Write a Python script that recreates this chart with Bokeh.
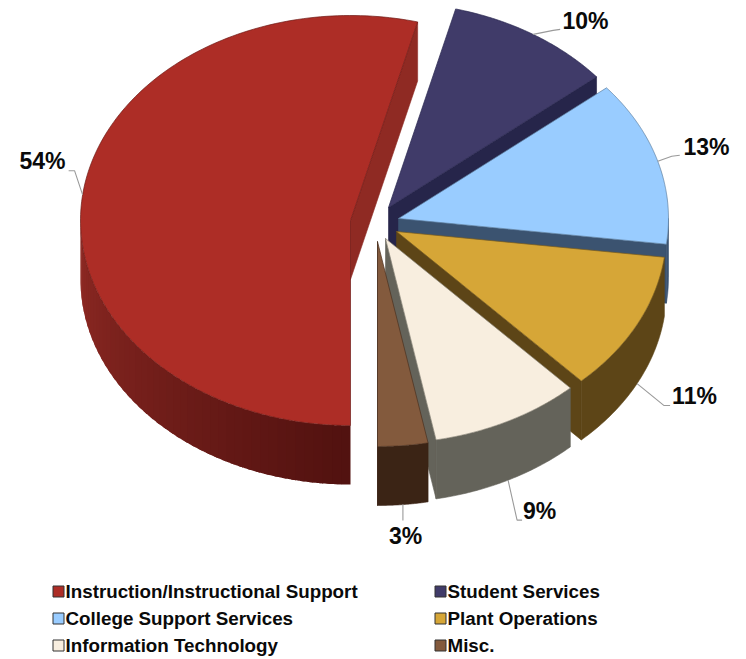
import numpy as np
from bokeh.core.properties import value
from bokeh.embed import file_html
from bokeh.models import Range1d
from bokeh.plotting import figure
from bokeh.resources import INLINE

# Budget shares, in drawing order clockwise from the bottom of the pie
categories = ["Instruction/Instructional Support", "Student Services",
              "College Support  Services", "Plant Operations",
              "Information Technology", "Misc."]
shares = [54, 10, 13, 11, 9, 3]

top_colors = ["#AD2D26", "#403B69", "#99CCFF", "#D6A637", "#F8EEDF", "#835A3D"]
wall_colors = ["#8F2A23", "#26254A", "#3B5370", "#5D4517", "#64635A", "#3B2415"]
edge_colors = ["#6E1A16", "#2A2850", "#5F7F9F", "#7A5C1C", "#8A8578", "#4A3020"]

# Exploded pie geometry: screen centre of each wedge, ellipse radii, extrusion
centers = [(350, 220), (388, 207), (398, 218), (396, 231), (385, 238), (377, 241)]
RX, RY, DEPTH = 270, 205, 59

# Leader elbows and label anchors, relative to each wedge's rim midpoint
leaders = [[(-8, -24), (-14, -24)], [(20, -4), (27, -5)], [(14, -5), (22, -6)],
           [(27, 22), (33, 22)], [(9, 40), (14, 40)], [(0, 16)]]
label_xy = [(42, 160), (585, 20), (706, 146), (694, 395), (539, 510), (405, 535)]

FONT = value("Liberation Sans")


def rim(center, deg, drop=0.0):
    a = np.radians(deg)
    return center[0] + RX * np.sin(a), center[1] - RY * np.cos(a) + drop


p = figure(width=746, height=659, output_backend="svg", toolbar_location=None,
           x_range=Range1d(0, 746), y_range=Range1d(659, 0),
           min_border=0, outline_line_color=None, background_fill_color="white")
p.axis.visible = False
p.grid.visible = False

# Wedge spans in degrees clockwise from the top; the first wedge wraps past 360
spans = []
start = 180.0
for share in shares:
    spans.append((start, start + share * 3.6))
    start = (start + share * 3.6) % 360.0

for share, (start, end), c, top, wall, edge in zip(shares, spans, centers, top_colors,
                                                   wall_colors, edge_colors):
    arc = np.linspace(start, end, 160)
    ax, ay = rim(c, arc)

    # straight wall along the trailing edge of the wedge
    ex, ey = rim(c, end)
    p.patch([c[0], ex, ex, c[0]], [c[1], ey, ey + DEPTH, c[1] + DEPTH],
            fill_color=wall, line_color=wall, line_width=0.6)

    # outer wall, only on the front half of the ellipse
    lo = max(start, 90.0)
    hi = min(end, 270.0)
    if hi > lo:
        if share == max(shares):
            # largest wedge: shaded in overlapping strips, dark at the bottom
            steps = 46
            edges = np.linspace(lo, hi, steps + 1)
            for i in range(steps):
                seg = np.linspace(edges[i], min(edges[i + 1] + 1.0, hi), 30)
                sx, sy = rim(c, seg)
                t = i / (steps - 1)
                rgb = (1 - t) * np.array([0x52, 0x12, 0x10]) + t * np.array([0x90, 0x2A, 0x24])
                col = "#%02X%02X%02X" % tuple(int(v) for v in rgb)
                p.patch(np.r_[sx, sx[::-1]], np.r_[sy, sy[::-1] + DEPTH],
                        fill_color=col, line_color=None)
        else:
            seg = np.linspace(lo, hi, 60)
            sx, sy = rim(c, seg)
            p.patch(np.r_[sx, sx[::-1]], np.r_[sy, sy[::-1] + DEPTH],
                    fill_color=wall, line_color=wall, line_width=0.6)

    # wedge top
    p.patch(np.r_[c[0], ax], np.r_[c[1], ay],
            fill_color=top, line_color=edge, line_width=0.7)

# Leader lines and percentage labels
for share, (start, end), c, elbow, (lx, ly) in zip(shares, spans, centers, leaders, label_xy):
    mid = ((start + end) / 2.0) % 360.0
    drop = DEPTH if 90 < mid < 270 else 0
    mx, my = rim(c, mid, drop)
    xs = [mx] + [mx + dx for dx, _ in elbow]
    ys = [my] + [my + dy for _, dy in elbow]
    p.line(xs, ys, line_color="#9A9A9A", line_width=1.1)
    p.text([lx], [ly], text=[f"{share}%"], text_font=FONT, text_font_style="bold",
           text_font_size="23px", text_color="#0A0A0A",
           text_align="center", text_baseline="middle")

# Legend, three rows in two columns
swatch_x = [58, 440]
text_x = [65, 447]
row_y = [591, 618, 645]
for i, (name, col) in enumerate(zip(categories, top_colors)):
    column, row = i % 2, i // 2
    p.scatter([swatch_x[column]], [row_y[row]], marker="square", size=11,
              fill_color=col, line_color="#333333", line_width=1)
    p.text([text_x[column]], [row_y[row]], text=[name], text_font=FONT,
           text_font_style="bold", text_font_size="18.8px", text_color="#0A0A0A",
           text_align="left", text_baseline="middle")

open("out.html", "w").write(file_html(p, INLINE))
